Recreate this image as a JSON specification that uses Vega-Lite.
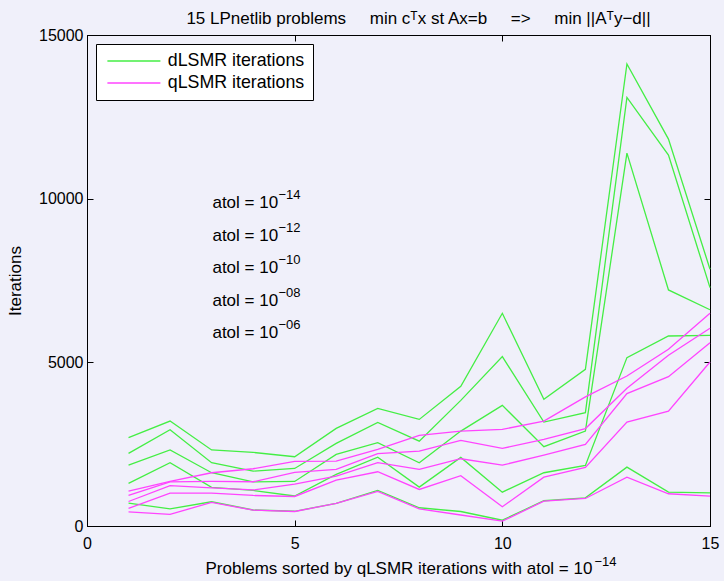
{
  "$schema": "https://vega.github.io/schema/vega-lite/v6.json",
  "width": 623,
  "height": 491,
  "autosize": "none",
  "padding": {"left": 87, "top": 35, "right": 14, "bottom": 55},
  "background": "#f0f0fa",
  "title": {
    "text": "15 LPnetlib problems\u00a0\u00a0\u00a0\u00a0\u00a0min cᵀx st Ax=b\u00a0\u00a0\u00a0\u00a0\u00a0=>\u00a0\u00a0\u00a0\u00a0\u00a0min ||Aᵀy−d||",
    "fontSize": 17,
    "font": "Liberation Sans",
    "fontWeight": "normal",
    "color": "#000",
    "offset": -1,
    "dx": 20
  },
  "config": {
    "view": {"stroke": "#000", "strokeWidth": 1, "fill": "#f0f0fa"},
    "font": "Liberation Sans",
    "axis": {
      "grid": false,
      "domainColor": "#000",
      "tickColor": "#000",
      "labelColor": "#000",
      "titleColor": "#000",
      "labelFont": "Liberation Sans",
      "titleFont": "Liberation Sans",
      "labelFontSize": 16,
      "titleFontSize": 17,
      "titleFontWeight": "normal",
      "labelFlush": false,
      "tickSize": -6,
      "tickWidth": 1
    }
  },
  "datasets": {
    "lines": [
      {"x": 1, "solver": "dLSMR iterations", "atol": "1e-14", "v": 2697},
      {"x": 2, "solver": "dLSMR iterations", "atol": "1e-14", "v": 3205},
      {"x": 3, "solver": "dLSMR iterations", "atol": "1e-14", "v": 2324},
      {"x": 4, "solver": "dLSMR iterations", "atol": "1e-14", "v": 2248},
      {"x": 5, "solver": "dLSMR iterations", "atol": "1e-14", "v": 2116},
      {"x": 6, "solver": "dLSMR iterations", "atol": "1e-14", "v": 2982},
      {"x": 7, "solver": "dLSMR iterations", "atol": "1e-14", "v": 3593},
      {"x": 8, "solver": "dLSMR iterations", "atol": "1e-14", "v": 3257},
      {"x": 9, "solver": "dLSMR iterations", "atol": "1e-14", "v": 4266},
      {"x": 10, "solver": "dLSMR iterations", "atol": "1e-14", "v": 6498},
      {"x": 11, "solver": "dLSMR iterations", "atol": "1e-14", "v": 3869},
      {"x": 12, "solver": "dLSMR iterations", "atol": "1e-14", "v": 4786},
      {"x": 13, "solver": "dLSMR iterations", "atol": "1e-14", "v": 14113},
      {"x": 14, "solver": "dLSMR iterations", "atol": "1e-14", "v": 11820},
      {"x": 15, "solver": "dLSMR iterations", "atol": "1e-14", "v": 7844},
      {"x": 1, "solver": "dLSMR iterations", "atol": "1e-12", "v": 2217},
      {"x": 2, "solver": "dLSMR iterations", "atol": "1e-12", "v": 2942},
      {"x": 3, "solver": "dLSMR iterations", "atol": "1e-12", "v": 1933},
      {"x": 4, "solver": "dLSMR iterations", "atol": "1e-12", "v": 1676},
      {"x": 5, "solver": "dLSMR iterations", "atol": "1e-12", "v": 1758},
      {"x": 6, "solver": "dLSMR iterations", "atol": "1e-12", "v": 2523},
      {"x": 7, "solver": "dLSMR iterations", "atol": "1e-12", "v": 3165},
      {"x": 8, "solver": "dLSMR iterations", "atol": "1e-12", "v": 2593},
      {"x": 9, "solver": "dLSMR iterations", "atol": "1e-12", "v": 3838},
      {"x": 10, "solver": "dLSMR iterations", "atol": "1e-12", "v": 5174},
      {"x": 11, "solver": "dLSMR iterations", "atol": "1e-12", "v": 3174},
      {"x": 12, "solver": "dLSMR iterations", "atol": "1e-12", "v": 3462},
      {"x": 13, "solver": "dLSMR iterations", "atol": "1e-12", "v": 13095},
      {"x": 14, "solver": "dLSMR iterations", "atol": "1e-12", "v": 11330},
      {"x": 15, "solver": "dLSMR iterations", "atol": "1e-12", "v": 7284},
      {"x": 1, "solver": "dLSMR iterations", "atol": "1e-10", "v": 1859},
      {"x": 2, "solver": "dLSMR iterations", "atol": "1e-10", "v": 2324},
      {"x": 3, "solver": "dLSMR iterations", "atol": "1e-10", "v": 1627},
      {"x": 4, "solver": "dLSMR iterations", "atol": "1e-10", "v": 1346},
      {"x": 5, "solver": "dLSMR iterations", "atol": "1e-10", "v": 1361},
      {"x": 6, "solver": "dLSMR iterations", "atol": "1e-10", "v": 2187},
      {"x": 7, "solver": "dLSMR iterations", "atol": "1e-10", "v": 2544},
      {"x": 8, "solver": "dLSMR iterations", "atol": "1e-10", "v": 1933},
      {"x": 9, "solver": "dLSMR iterations", "atol": "1e-10", "v": 2899},
      {"x": 10, "solver": "dLSMR iterations", "atol": "1e-10", "v": 3685},
      {"x": 11, "solver": "dLSMR iterations", "atol": "1e-10", "v": 2422},
      {"x": 12, "solver": "dLSMR iterations", "atol": "1e-10", "v": 2899},
      {"x": 13, "solver": "dLSMR iterations", "atol": "1e-10", "v": 11391},
      {"x": 14, "solver": "dLSMR iterations", "atol": "1e-10", "v": 7211},
      {"x": 15, "solver": "dLSMR iterations", "atol": "1e-10", "v": 6606},
      {"x": 1, "solver": "dLSMR iterations", "atol": "1e-08", "v": 1300},
      {"x": 2, "solver": "dLSMR iterations", "atol": "1e-08", "v": 1933},
      {"x": 3, "solver": "dLSMR iterations", "atol": "1e-08", "v": 1183},
      {"x": 4, "solver": "dLSMR iterations", "atol": "1e-08", "v": 1086},
      {"x": 5, "solver": "dLSMR iterations", "atol": "1e-08", "v": 917},
      {"x": 6, "solver": "dLSMR iterations", "atol": "1e-08", "v": 1575},
      {"x": 7, "solver": "dLSMR iterations", "atol": "1e-08", "v": 2104},
      {"x": 8, "solver": "dLSMR iterations", "atol": "1e-08", "v": 1187},
      {"x": 9, "solver": "dLSMR iterations", "atol": "1e-08", "v": 2095},
      {"x": 10, "solver": "dLSMR iterations", "atol": "1e-08", "v": 1034},
      {"x": 11, "solver": "dLSMR iterations", "atol": "1e-08", "v": 1627},
      {"x": 12, "solver": "dLSMR iterations", "atol": "1e-08", "v": 1850},
      {"x": 13, "solver": "dLSMR iterations", "atol": "1e-08", "v": 5144},
      {"x": 14, "solver": "dLSMR iterations", "atol": "1e-08", "v": 5804},
      {"x": 15, "solver": "dLSMR iterations", "atol": "1e-08", "v": 5826},
      {"x": 1, "solver": "dLSMR iterations", "atol": "1e-06", "v": 697},
      {"x": 2, "solver": "dLSMR iterations", "atol": "1e-06", "v": 526},
      {"x": 3, "solver": "dLSMR iterations", "atol": "1e-06", "v": 740},
      {"x": 4, "solver": "dLSMR iterations", "atol": "1e-06", "v": 489},
      {"x": 5, "solver": "dLSMR iterations", "atol": "1e-06", "v": 450},
      {"x": 6, "solver": "dLSMR iterations", "atol": "1e-06", "v": 688},
      {"x": 7, "solver": "dLSMR iterations", "atol": "1e-06", "v": 1086},
      {"x": 8, "solver": "dLSMR iterations", "atol": "1e-06", "v": 557},
      {"x": 9, "solver": "dLSMR iterations", "atol": "1e-06", "v": 443},
      {"x": 10, "solver": "dLSMR iterations", "atol": "1e-06", "v": 177},
      {"x": 11, "solver": "dLSMR iterations", "atol": "1e-06", "v": 771},
      {"x": 12, "solver": "dLSMR iterations", "atol": "1e-06", "v": 862},
      {"x": 13, "solver": "dLSMR iterations", "atol": "1e-06", "v": 1798},
      {"x": 14, "solver": "dLSMR iterations", "atol": "1e-06", "v": 1034},
      {"x": 15, "solver": "dLSMR iterations", "atol": "1e-06", "v": 1015},
      {"x": 1, "solver": "qLSMR iterations", "atol": "1e-14", "v": 1064},
      {"x": 2, "solver": "qLSMR iterations", "atol": "1e-14", "v": 1361},
      {"x": 3, "solver": "qLSMR iterations", "atol": "1e-14", "v": 1627},
      {"x": 4, "solver": "qLSMR iterations", "atol": "1e-14", "v": 1749},
      {"x": 5, "solver": "qLSMR iterations", "atol": "1e-14", "v": 1972},
      {"x": 6, "solver": "qLSMR iterations", "atol": "1e-14", "v": 1982},
      {"x": 7, "solver": "qLSMR iterations", "atol": "1e-14", "v": 2339},
      {"x": 8, "solver": "qLSMR iterations", "atol": "1e-14", "v": 2768},
      {"x": 9, "solver": "qLSMR iterations", "atol": "1e-14", "v": 2899},
      {"x": 10, "solver": "qLSMR iterations", "atol": "1e-14", "v": 2951},
      {"x": 11, "solver": "qLSMR iterations", "atol": "1e-14", "v": 3205},
      {"x": 12, "solver": "qLSMR iterations", "atol": "1e-14", "v": 3945},
      {"x": 13, "solver": "qLSMR iterations", "atol": "1e-14", "v": 4581},
      {"x": 14, "solver": "qLSMR iterations", "atol": "1e-14", "v": 5398},
      {"x": 15, "solver": "qLSMR iterations", "atol": "1e-14", "v": 6498},
      {"x": 1, "solver": "qLSMR iterations", "atol": "1e-12", "v": 939},
      {"x": 2, "solver": "qLSMR iterations", "atol": "1e-12", "v": 1346},
      {"x": 3, "solver": "qLSMR iterations", "atol": "1e-12", "v": 1361},
      {"x": 4, "solver": "qLSMR iterations", "atol": "1e-12", "v": 1352},
      {"x": 5, "solver": "qLSMR iterations", "atol": "1e-12", "v": 1636},
      {"x": 6, "solver": "qLSMR iterations", "atol": "1e-12", "v": 1728},
      {"x": 7, "solver": "qLSMR iterations", "atol": "1e-12", "v": 2208},
      {"x": 8, "solver": "qLSMR iterations", "atol": "1e-12", "v": 2287},
      {"x": 9, "solver": "qLSMR iterations", "atol": "1e-12", "v": 2615},
      {"x": 10, "solver": "qLSMR iterations", "atol": "1e-12", "v": 2370},
      {"x": 11, "solver": "qLSMR iterations", "atol": "1e-12", "v": 2645},
      {"x": 12, "solver": "qLSMR iterations", "atol": "1e-12", "v": 2976},
      {"x": 13, "solver": "qLSMR iterations", "atol": "1e-12", "v": 4211},
      {"x": 14, "solver": "qLSMR iterations", "atol": "1e-12", "v": 5214},
      {"x": 15, "solver": "qLSMR iterations", "atol": "1e-12", "v": 6040},
      {"x": 1, "solver": "qLSMR iterations", "atol": "1e-10", "v": 749},
      {"x": 2, "solver": "qLSMR iterations", "atol": "1e-10", "v": 1232},
      {"x": 3, "solver": "qLSMR iterations", "atol": "1e-10", "v": 1162},
      {"x": 4, "solver": "qLSMR iterations", "atol": "1e-10", "v": 1101},
      {"x": 5, "solver": "qLSMR iterations", "atol": "1e-10", "v": 1278},
      {"x": 6, "solver": "qLSMR iterations", "atol": "1e-10", "v": 1523},
      {"x": 7, "solver": "qLSMR iterations", "atol": "1e-10", "v": 1933},
      {"x": 8, "solver": "qLSMR iterations", "atol": "1e-10", "v": 1728},
      {"x": 9, "solver": "qLSMR iterations", "atol": "1e-10", "v": 2055},
      {"x": 10, "solver": "qLSMR iterations", "atol": "1e-10", "v": 1859},
      {"x": 11, "solver": "qLSMR iterations", "atol": "1e-10", "v": 2165},
      {"x": 12, "solver": "qLSMR iterations", "atol": "1e-10", "v": 2492},
      {"x": 13, "solver": "qLSMR iterations", "atol": "1e-10", "v": 4043},
      {"x": 14, "solver": "qLSMR iterations", "atol": "1e-10", "v": 4563},
      {"x": 15, "solver": "qLSMR iterations", "atol": "1e-10", "v": 5602},
      {"x": 1, "solver": "qLSMR iterations", "atol": "1e-08", "v": 541},
      {"x": 2, "solver": "qLSMR iterations", "atol": "1e-08", "v": 1003},
      {"x": 3, "solver": "qLSMR iterations", "atol": "1e-08", "v": 1003},
      {"x": 4, "solver": "qLSMR iterations", "atol": "1e-08", "v": 933},
      {"x": 5, "solver": "qLSMR iterations", "atol": "1e-08", "v": 902},
      {"x": 6, "solver": "qLSMR iterations", "atol": "1e-08", "v": 1401},
      {"x": 7, "solver": "qLSMR iterations", "atol": "1e-08", "v": 1657},
      {"x": 8, "solver": "qLSMR iterations", "atol": "1e-08", "v": 1116},
      {"x": 9, "solver": "qLSMR iterations", "atol": "1e-08", "v": 1535},
      {"x": 10, "solver": "qLSMR iterations", "atol": "1e-08", "v": 587},
      {"x": 11, "solver": "qLSMR iterations", "atol": "1e-08", "v": 1492},
      {"x": 12, "solver": "qLSMR iterations", "atol": "1e-08", "v": 1789},
      {"x": 13, "solver": "qLSMR iterations", "atol": "1e-08", "v": 3174},
      {"x": 14, "solver": "qLSMR iterations", "atol": "1e-08", "v": 3511},
      {"x": 15, "solver": "qLSMR iterations", "atol": "1e-08", "v": 5009},
      {"x": 1, "solver": "qLSMR iterations", "atol": "1e-06", "v": 434},
      {"x": 2, "solver": "qLSMR iterations", "atol": "1e-06", "v": 358},
      {"x": 3, "solver": "qLSMR iterations", "atol": "1e-06", "v": 719},
      {"x": 4, "solver": "qLSMR iterations", "atol": "1e-06", "v": 483},
      {"x": 5, "solver": "qLSMR iterations", "atol": "1e-06", "v": 443},
      {"x": 6, "solver": "qLSMR iterations", "atol": "1e-06", "v": 688},
      {"x": 7, "solver": "qLSMR iterations", "atol": "1e-06", "v": 1055},
      {"x": 8, "solver": "qLSMR iterations", "atol": "1e-06", "v": 526},
      {"x": 9, "solver": "qLSMR iterations", "atol": "1e-06", "v": 336},
      {"x": 10, "solver": "qLSMR iterations", "atol": "1e-06", "v": 147},
      {"x": 11, "solver": "qLSMR iterations", "atol": "1e-06", "v": 758},
      {"x": 12, "solver": "qLSMR iterations", "atol": "1e-06", "v": 841},
      {"x": 13, "solver": "qLSMR iterations", "atol": "1e-06", "v": 1492},
      {"x": 14, "solver": "qLSMR iterations", "atol": "1e-06", "v": 985},
      {"x": 15, "solver": "qLSMR iterations", "atol": "1e-06", "v": 911}
    ],
    "notes": [
      {"x": 3.02, "y": 9700, "label": "atol = 10", "sup": "−14"},
      {"x": 3.02, "y": 8712, "label": "atol = 10", "sup": "−12"},
      {"x": 3.02, "y": 7724, "label": "atol = 10", "sup": "−10"},
      {"x": 3.02, "y": 6736, "label": "atol = 10", "sup": "−08"},
      {"x": 3.02, "y": 5748, "label": "atol = 10", "sup": "−06"}
    ]
  },
  "layer": [
    {
      "data": {"name": "lines"},
      "mark": {"type": "line", "strokeWidth": 1.3},
      "encoding": {
        "x": {
          "field": "x",
          "type": "quantitative",
          "scale": {"domain": [0, 15], "nice": false, "zero": false},
          "axis": {
            "orient": "bottom",
            "values": [0, 5, 10, 15],
            "labelPadding": 15,
            "title": "Problems sorted by qLSMR iterations with atol = 10",
            "titleAlign": "left",
            "titleBaseline": "alphabetic",
            "titleX": 118,
            "titleY": 47
          }
        },
        "y": {
          "field": "v",
          "type": "quantitative",
          "scale": {"domain": [0, 15000], "nice": false},
          "axis": {
            "orient": "left",
            "values": [0, 5000, 10000, 15000],
            "format": "d",
            "labelPadding": 10,
            "title": "Iterations",
            "titlePadding": 14
          }
        },
        "color": {
          "field": "solver",
          "type": "nominal",
          "scale": {"domain": ["dLSMR iterations", "qLSMR iterations"], "range": ["#44ee44", "#ff44ff"]},
          "legend": {
            "title": null,
            "orient": "top-left",
            "offset": 9,
            "fillColor": "#ffffff",
            "strokeColor": "#000000",
            "padding": 8,
            "labelFont": "Liberation Sans",
            "labelFontSize": 17.8,
            "labelColor": "#000",
            "symbolType": "M-5.3,0H5.3",
            "symbolSize": 100,
            "symbolStrokeWidth": 1.5,
            "symbolOffset": 21,
            "labelOffset": 25,
            "rowPadding": 3
          }
        },
        "detail": {"field": "atol", "type": "nominal"}
      }
    },
    {
      "data": {"name": "notes"},
      "mark": {"type": "text", "align": "left", "baseline": "alphabetic", "fontSize": 17, "font": "Liberation Sans", "color": "#000"},
      "encoding": {
        "x": {
          "field": "x",
          "type": "quantitative",
          "axis": {"orient": "top", "values": [0, 5, 10, 15], "labels": false, "title": null}
        },
        "y": {
          "field": "y",
          "type": "quantitative",
          "axis": {"orient": "right", "values": [0, 5000, 10000, 15000], "labels": false, "title": null}
        },
        "text": {"field": "label"}
      }
    },
    {
      "data": {"name": "notes"},
      "mark": {"type": "text", "align": "left", "baseline": "alphabetic", "fontSize": 13, "font": "Liberation Sans", "color": "#000", "dx": 66, "dy": -9},
      "encoding": {
        "x": {
          "field": "x",
          "type": "quantitative",
          "axis": {
            "orient": "bottom",
            "ticks": false,
            "labels": false,
            "domain": false,
            "title": "−14",
            "titleFontSize": 13,
            "titleAlign": "left",
            "titleBaseline": "alphabetic",
            "titleX": 507,
            "titleY": 39
          }
        },
        "y": {"field": "y", "type": "quantitative", "axis": null},
        "text": {"field": "sup"}
      }
    }
  ],
  "resolve": {"axis": {"x": "independent", "y": "independent"}}
}
